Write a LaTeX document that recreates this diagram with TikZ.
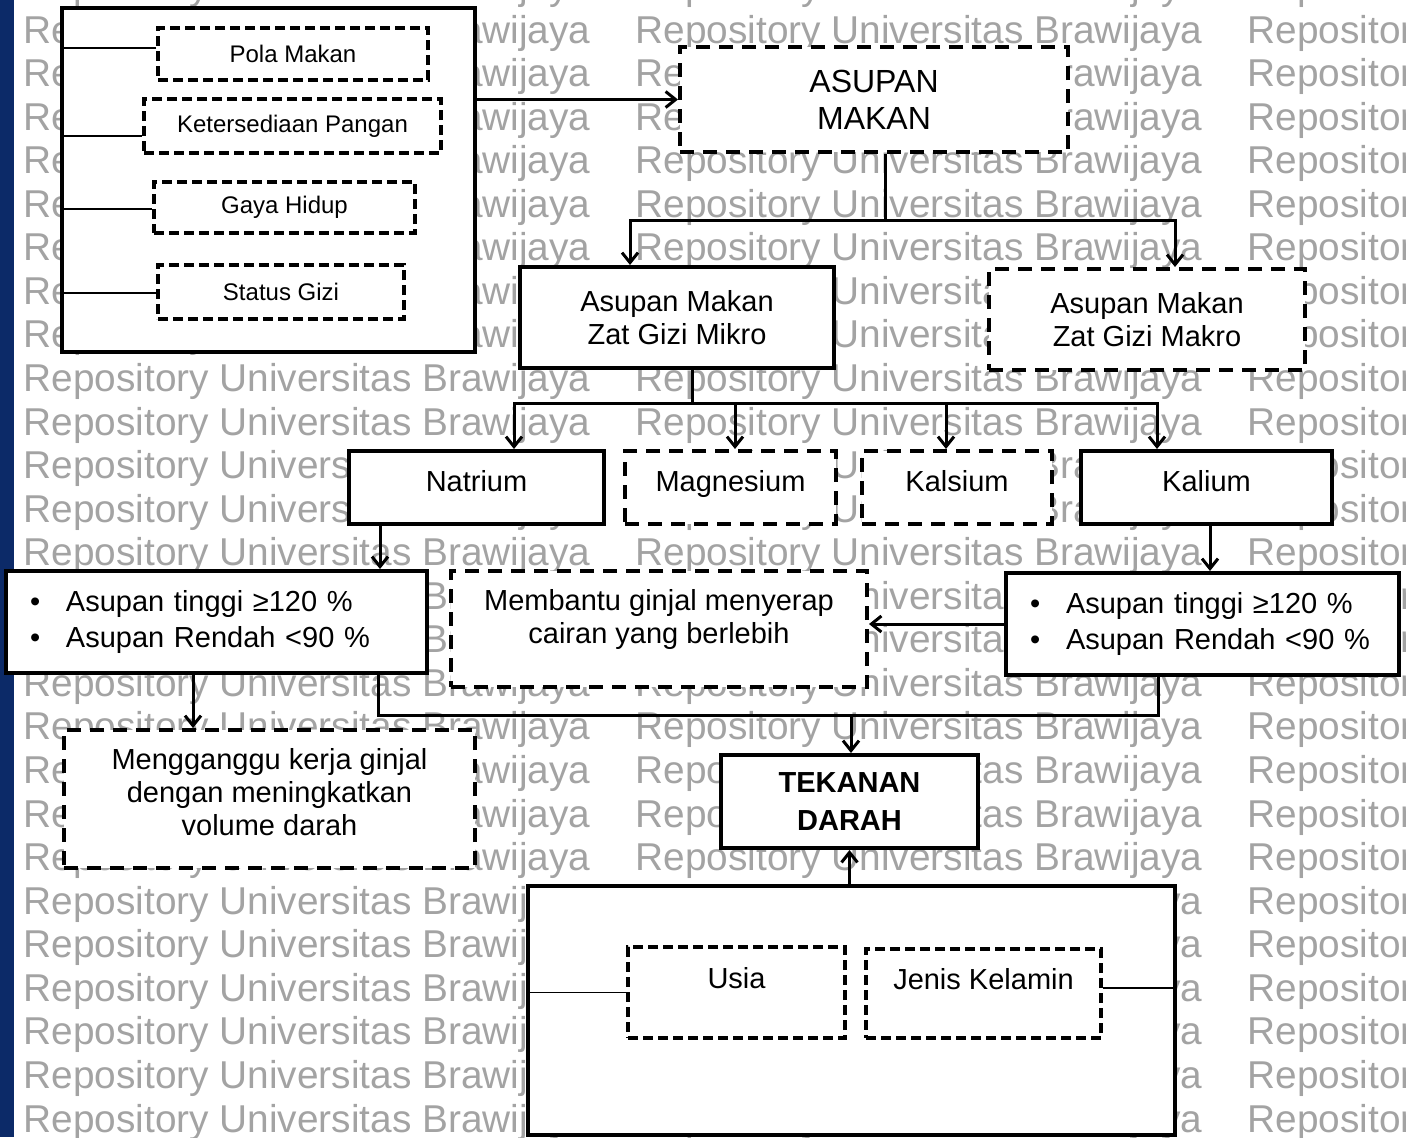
\documentclass[tikz,border=0pt]{standalone}
\usepackage{fontspec}
\setmainfont{Liberation Sans}
\usepackage{xcolor}
\definecolor{repoblue}{HTML}{0C2A68}
\definecolor{wmgray}{HTML}{A3A3A3}
\usepackage{tikz}
\usetikzlibrary{arrows.meta}
\newcommand\lblfont{\fontsize{14.5}{16.5}\selectfont}
\newcommand\bulfont{\fontsize{14.5}{18}\selectfont}
\newcommand\factfont{\fontsize{12}{14}\selectfont}
\newcommand\headfont{\fontsize{16}{18.5}\selectfont}
\newcommand\boldfont{\fontsize{14.5}{19}\selectfont\bfseries}
\newcommand\wmfont{\fontsize{19.4}{22}\selectfont}

\begin{document}
\begin{tikzpicture}[x=0.5pt,y=-0.5pt,>={Straight Barb[length=5pt,width=8pt]},line width=1.5pt]
  \tikzstyle{wm}=[text=wmgray,font=\wmfont,inner sep=0,anchor=base west]
  \tikzstyle{sbox}=[draw,fill=white,line width=2pt,inner sep=0,align=center,font=\lblfont]
  \tikzstyle{dbox}=[sbox,dash pattern=on 7pt off 4.5pt]
  \tikzstyle{fbox}=[sbox,dash pattern=on 5pt off 2.5pt,font=\factfont]
  \tikzstyle{bul}=[sbox,align=left,inner xsep=12pt,font=\bulfont]
  \tikzstyle{ar}=[->,line width=1.5pt]
  \tikzstyle{ln}=[line width=0.75pt]

  \useasboundingbox (0,0) rectangle (1406,1137);
  % watermark rows
  \foreach \r in {-1,...,25}
    \foreach \c in {0,1,2}
      \node[wm] (wm-\r-\c) at (22+612*\c,43+43.56*\r) {Repository Universitas Brawijaya};
  \fill[repoblue] (0,0) rectangle (14,1137);

  % factors of intake
  \node[sbox,minimum width=206.5pt,minimum height=172pt] (fac) at (268.5,180) {};
  \node[fbox,minimum width=135pt,minimum height=26pt]    (pm) at (293,54)    {Pola Makan};
  \node[fbox,minimum width=148.5pt,minimum height=27pt]  (kp) at (292.5,126) {Ketersediaan Pangan};
  \node[fbox,minimum width=130.5pt,minimum height=25.5pt](gh) at (284.5,207.5){Gaya Hidup};
  \node[fbox,minimum width=123pt,minimum height=27pt]    (sg) at (281,292)   {Status Gizi};

  \node[dbox,font=\headfont,minimum width=194pt,minimum height=52.5pt] (am) at (874,99.5) {ASUPAN\\MAKAN};
  \node[sbox,minimum width=157pt,minimum height=50.5pt] (mik) at (677,317.5)  {Asupan Makan\\Zat Gizi Mikro};
  \node[dbox,minimum width=158pt,minimum height=50.5pt] (mak) at (1147,319.5) {Asupan Makan\\Zat Gizi Makro};

  \node[sbox,minimum width=127.5pt,minimum height=36.5pt,text depth=7pt] (na) at (476.5,487.5)  {Natrium};
  \node[dbox,minimum width=105.5pt,minimum height=36.5pt,text depth=7pt] (mg) at (730.5,487.5)  {Magnesium};
  \node[dbox,minimum width=95pt,minimum height=36.5pt,text depth=7pt]    (ca) at (957,487.5)    {Kalsium};
  \node[sbox,minimum width=125.5pt,minimum height=36.5pt,text depth=7pt] (ka) at (1206.5,487.5) {Kalium};

  \node[bul,text width=186.5pt,minimum height=51pt] (nab) at (216.5,622)
    {\makebox[18pt][l]{•}Asupan tinggi ≥120 \%\\\makebox[18pt][l]{•}Asupan Rendah <90 \%};
  \node[bul,text width=172.5pt,minimum height=51pt] (kab) at (1202.5,624)
    {\makebox[18pt][l]{•}Asupan tinggi ≥120 \%\\\makebox[18pt][l]{•}Asupan Rendah <90 \%};
  \node[dbox,minimum width=208pt,minimum height=58pt,text depth=13pt] (mb) at (659,629)
    {Membantu ginjal menyerap\\cairan yang berlebih};
  \node[dbox,minimum width=205.5pt,minimum height=69pt,text depth=7pt] (mgg) at (269.5,799)
    {Mengganggu kerja ginjal\\dengan meningkatkan\\volume darah};

  \node[sbox,font=\boldfont,minimum width=128.5pt,minimum height=46.5pt] (td) at (849.5,801.5) {TEKANAN\\DARAH};

  % other factors
  \node[sbox,minimum width=323.5pt,minimum height=124.5pt] (bb) at (851.5,1010.5) {};
  \node[fbox,font=\lblfont,minimum width=108.5pt,minimum height=45.5pt,text depth=15pt] (us) at (736.5,992.5) {Usia};
  \node[fbox,font=\lblfont,minimum width=117.5pt,minimum height=44.5pt,text depth=15pt] (jk) at (983.5,993.5) {Jenis Kelamin};

  \coordinate (b1) at (885,220);
  \coordinate (b2) at (692,403);
  \coordinate (b3) at (851,715);

  \draw[ln] ([yshift=3pt]pm.west)    -- ([yshift=3pt]pm.west -| fac.west);
  \draw[ln] ([yshift=-5pt]kp.west)   -- ([yshift=-5pt]kp.west -| fac.west);
  \draw[ln] ([yshift=-0.75pt]gh.west) -- ([yshift=-0.75pt]gh.west -| fac.west);
  \draw[ln] ([yshift=-0.5pt]sg.west) -- ([yshift=-0.5pt]sg.west -| fac.west);
  \path (fac.east |- am.west) edge[ar] (am.west);

  \draw[ar,-] ([xshift=5.5pt]am.south) -- (b1);
  \draw[ar,<->] ([xshift=-23.5pt]mik.north) |- (b1) -| ([xshift=14pt]mak.north);

  \draw[ar,-] ([xshift=7.5pt]mik.south) -- (b2);
  \draw[ar,<->] ([xshift=18.75pt]na.north) |- (b2) -| ([xshift=-24.75pt]ka.north);
  \path ([xshift=2.25pt]mg.north |- b2) edge[ar] ([xshift=2.25pt]mg.north)
        ([xshift=-5.5pt]ca.north |- b2) edge[ar] ([xshift=-5.5pt]ca.north);

  \path ([xshift=-48.25pt]na.south) edge[ar] ([xshift=-48.25pt]na.south |- nab.north)
        ([xshift=1.75pt]ka.south)   edge[ar] ([xshift=1.75pt]ka.south |- kab.north)
        (kab.west)                  edge[ar] (kab.west -| mb.east)
        ([xshift=-11.75pt]nab.south) edge[ar] ([xshift=-11.75pt]nab.south |- mgg.north);

  \draw[ar,-] ([xshift=80.75pt]nab.south) |- (b3) -| ([xshift=-22.25pt]kab.south);
  \path (b3) edge[ar] (b3 |- td.north)
        (td.south |- bb.north) edge[ar] (td.south);

  \draw[ln] (us.west) -- (us.west -| bb.west);
  \draw[ln] ([yshift=2.75pt]jk.east) -- ([yshift=2.75pt]jk.east -| bb.east);
\end{tikzpicture}
\end{document}
